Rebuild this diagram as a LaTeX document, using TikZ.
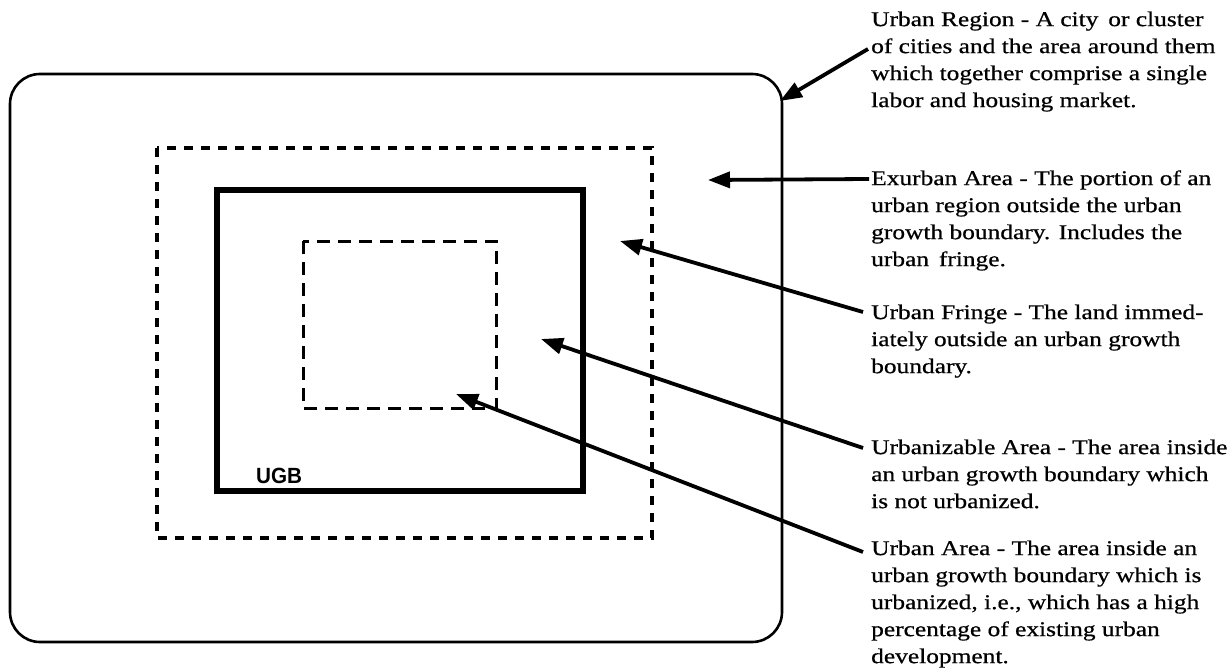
\documentclass[tikz,border=0pt]{standalone}
\usepackage{fontspec}
\setmainfont{Liberation Serif}
\newfontfamily\lblfont{Liberation Serif}[FakeStretch=1.21,FakeBold=0.6]
\newfontfamily\ugbfont{Liberation Sans}[FakeStretch=0.94,BoldFont={* Bold}]
\usetikzlibrary{arrows.meta}
\begin{document}
\begin{tikzpicture}[x=1pt,y=-1pt,
  lbl/.style={anchor=north west,inner sep=0pt,align=left,font=\lblfont\fontsize{21}{27}\selectfont},
  ptr/.style={line width=3.8pt,-{Triangle[length=22pt,width=16pt]}},
  outerbox/.style={line width=2.6pt,rounded corners=30pt},
  dashbox/.style={line width=3.6pt,dash pattern=on 9pt off 8pt},
  ugbbox/.style={line width=6pt},
  innerdash/.style={line width=3pt,dash pattern=on 13pt off 8pt}]
\useasboundingbox (0,0) rectangle (1230,671);
% boxes
\draw[outerbox] (10,74) rectangle (782,642);
\draw[dashbox] (157,148) rectangle (652,538);
\draw[ugbbox] (217,190) rectangle (583,491);
\draw[innerdash] (303,241) rectangle (496,408);
\node[anchor=south west,inner sep=0pt,font=\ugbfont\bfseries\fontsize{22}{22}\selectfont] (ugb) at (256,484) {UGB};
% labels
\node[lbl] (reg) at (871,7) {\strut Urban Region - A city\, or cluster\\of cities and the area around them\\which together comprise a single\\labor and housing market.};
\node[lbl] (exu) at (871,166) {\strut Exurban Area - The portion of an\\urban region outside the urban\\growth boundary. Includes the\\urban\, fringe.};
\node[lbl] (fri) at (871,300) {\strut Urban Fringe - The land immed-\\iately outside an urban growth\\boundary.};
\node[lbl] (uzb) at (871,435) {\strut Urbanizable Area - The area inside\\an urban growth boundary which\\is not urbanized.};
\node[lbl] (ura) at (871,536) {\strut Urban Area - The area inside an\\urban growth boundary which is\\urbanized, i.e., which has a high\\percentage of existing urban\\development.};
% pointer tips
\coordinate (tReg) at (780,101);
\coordinate (tExu) at (708,180);
\coordinate (tFri) at (620,241);
\coordinate (tUzb) at (541,339);
\coordinate (tUra) at (456,394);
\coordinate (sReg) at (868,49);
\coordinate (sExu) at (869,179);
\coordinate (sFri) at (863,312);
\coordinate (sUzb) at (863,448);
\coordinate (sUra) at (863,552);
\draw[ptr] (sReg) -- (tReg);
\draw[ptr] (sExu) -- (tExu);
\draw[ptr] (sFri) -- (tFri);
\draw[ptr] (sUzb) -- (tUzb);
\draw[ptr] (sUra) -- (tUra);
\end{tikzpicture}
\end{document}
